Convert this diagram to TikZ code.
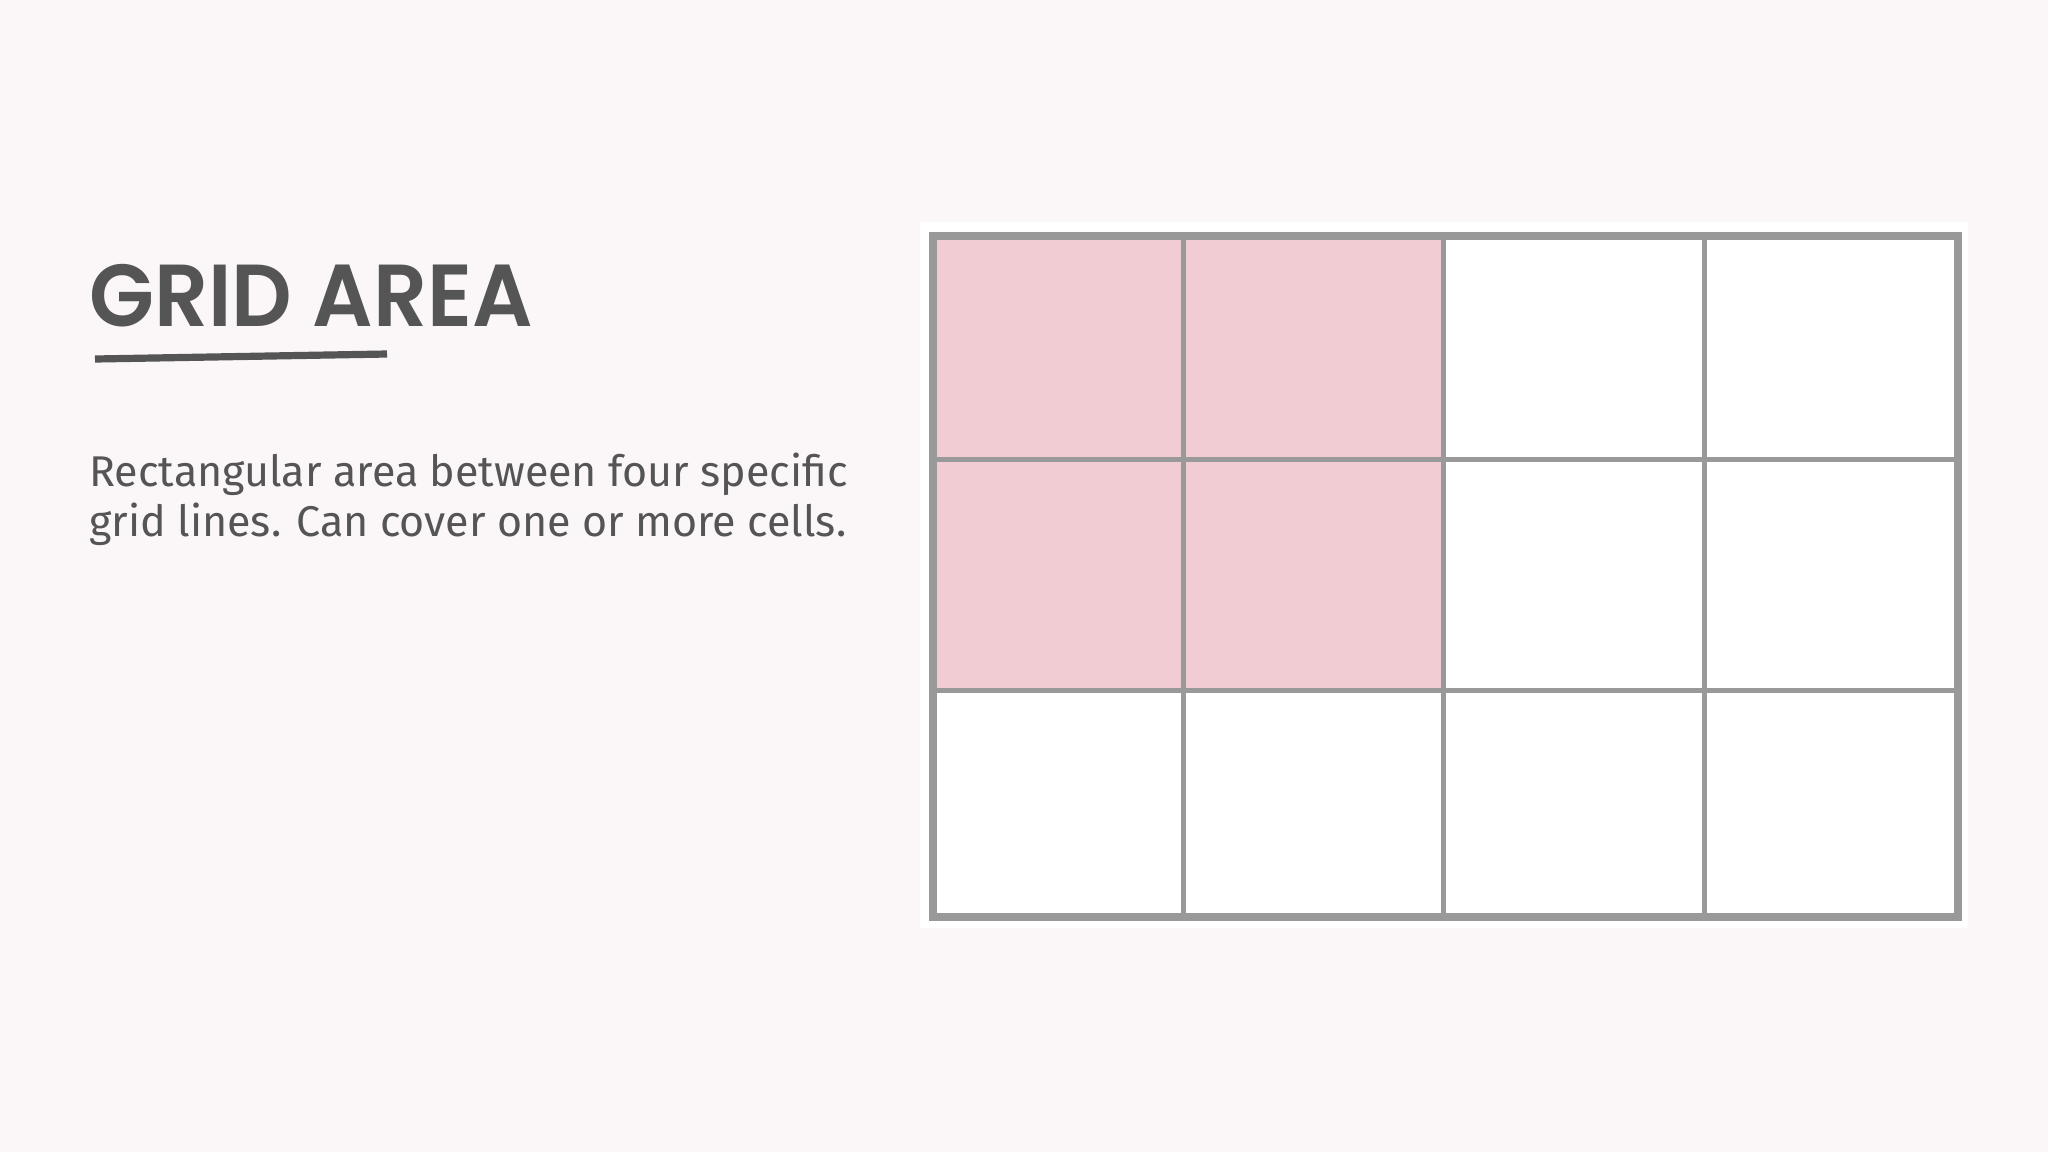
\documentclass[tikz,border=0pt]{standalone}
\usepackage{fontspec}
\setmainfont{Fira Sans}
\newfontfamily\titlefont{Poppins}[UprightFont={* SemiBold}]
\definecolor{pagebg}{HTML}{FBF6F7}
\definecolor{areapink}{HTML}{F2CCD3}
\definecolor{gridgray}{HTML}{999999}
\definecolor{inkgray}{HTML}{555555}
\begin{document}
\begin{tikzpicture}[x=0.5pt, y=-0.5pt,
    cellline/.style ={draw=gridgray, line width=2.5pt},
    frameline/.style ={draw=gridgray, line width=3.8pt},
    heading/.style ={text=inkgray, inner sep=0pt, font=\titlefont\fontsize{44}{50}\selectfont},
    blurb/.style ={text=inkgray, inner sep=0pt, align=left, font=\fontsize{21.5}{25}\selectfont}]
   \fill[pagebg] (0,0) rectangle (2048,1152);
   \fill[white] (920,222) rectangle (1968,928);
   \fill[areapink] (933,236) rectangle (1443,690);

   \foreach \x in {1183,1443,1704}
      \draw[cellline] (\x,236) -- (\x,917);
   \foreach \y in {459,690}
      \draw[cellline] (933,\y) -- (1958,\y);
   \draw[frameline] (933,236) rectangle (1958,917);

   \node[heading, anchor=base west, xscale=0.96] (title) at (89,326) {GRID AREA};
   \draw[inkgray, line width=3.6pt] (95,359) -- (387,354);
   \node[blurb, anchor=base west] (desc) at (89,536)
      {Rectangular area between four specific\\grid lines. Can cover one or more cells.};
\end{tikzpicture}
\end{document}
